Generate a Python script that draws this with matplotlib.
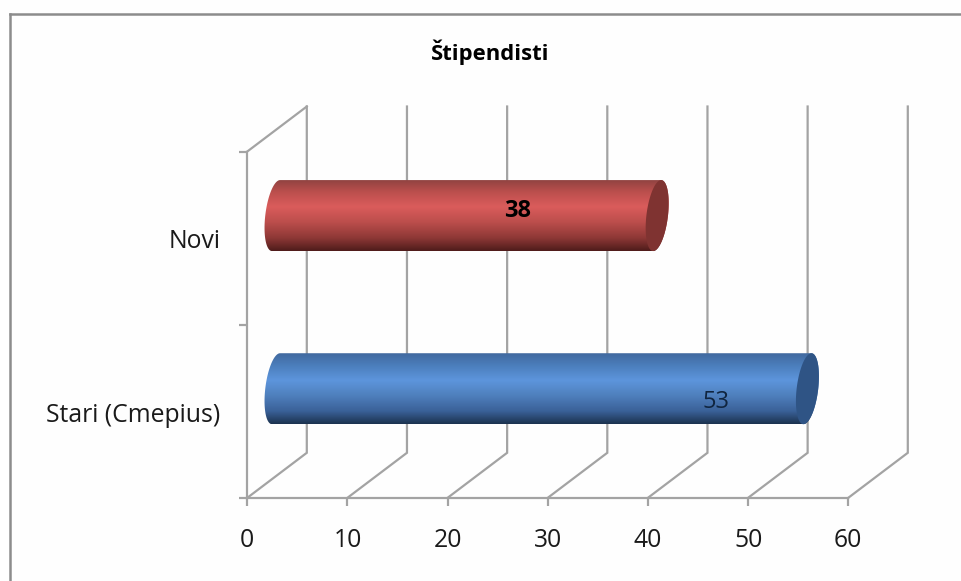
import numpy as np
import matplotlib
matplotlib.use('Agg')
import matplotlib.pyplot as plt
from matplotlib.colors import LinearSegmentedColormap
from matplotlib.patches import PathPatch
from matplotlib.path import Path

# data
categories = ['Stari (Cmepius)', 'Novi']
values = [53, 38]
value_ticks = [0, 10, 20, 30, 40, 50, 60]
title = 'Štipendisti'

# px helpers, picture is 962x581
W, H = 962, 581
x0_px, x60_px = 247.3, 848.3
y0_px, y2_px = 497.8, 151.5

plt.rcParams['font.family'] = ['Open Sans', 'DejaVu Sans']

fig = plt.figure(figsize=(W / 100, H / 100), dpi=100, facecolor='#fefefe')
ax = fig.add_axes([x0_px / W, 1 - y0_px / H, (x60_px - x0_px) / W, (y0_px - y2_px) / H])
ax.patch.set_visible(False)
ax.set_xlim(0, 60)
ax.set_ylim(0, 2)

px_x = 60 / (x60_px - x0_px)        # value units per pixel
px_y = 2 / (y0_px - y2_px)          # category units per pixel
depth_x = 59.5 * px_x               # 3d floor offset
depth_y = 45 * px_y

grid_c = '#a3a3a3'
lw = 1.6

# outer frame, picture is cropped on right and bottom
for xs, ys in [([10.3, 10.3], [H, 13.5]), ([10.3, W], [13.5, 13.5])]:
    fig.add_artist(plt.Line2D(np.array(xs) / W, 1 - np.array(ys) / H, color='#8c8c8c', lw=1.8))

# walls and floor
for v in value_ticks:
    ax.plot([v, v + depth_x, v + depth_x], [0, depth_y, 2 + depth_y], color=grid_c, lw=lw,
            clip_on=False, zorder=1, solid_joinstyle='miter')
ax.plot([0, depth_x], [2, 2 + depth_y], color=grid_c, lw=lw, clip_on=False, zorder=1)

# axis
for s in ['top', 'right']:
    ax.spines[s].set_visible(False)
for s in ['left', 'bottom']:
    ax.spines[s].set_color(grid_c)
    ax.spines[s].set_linewidth(lw)
    ax.spines[s].set_zorder(1)
ax.set_xticks(value_ticks)
ax.set_yticks([0, 1, 2])
ax.set_yticklabels([])
ax.tick_params(axis='both', color=grid_c, width=lw, length=5.8, labelcolor='#1a1a1a')
ax.tick_params(axis='x', labelsize=17.8, pad=16)


def cylinder(v, cat, stops, cap_color):
    cy = cat + 0.5 + depth_y / 2
    half_h = 35.5 * px_y
    a = 10.8 * px_x
    s = 4 * px_x
    c_left = depth_x / 2 - 1 * px_x
    c_right = v + depth_x / 2 - 0.5 * px_x

    # left half of the left ellipse, then right half of the right one
    t = np.linspace(np.pi / 2, 3 * np.pi / 2, 60)
    xl = c_left + a * np.cos(t) + s * np.sin(t)
    yl = cy + half_h * np.sin(t)
    t2 = np.linspace(-np.pi / 2, np.pi / 2, 60)
    xr = c_right + a * np.cos(t2) + s * np.sin(t2)
    yr = cy + half_h * np.sin(t2)
    verts = np.r_[np.c_[xl, yl], np.c_[xr, yr], [[xl[0], yl[0]]]]
    body = PathPatch(Path(verts), transform=ax.transData, facecolor='none', edgecolor='none')
    ax.add_patch(body)

    cmap = LinearSegmentedColormap.from_list('grad', stops)
    grad = np.linspace(0, 1, 128).reshape(-1, 1)
    im = ax.imshow(grad, cmap=cmap, aspect='auto', origin='upper', zorder=3, interpolation='bilinear',
                   extent=[c_left - 2, c_right + 2, cy - half_h, cy + half_h])
    im.set_clip_path(body)

    # end cap
    t3 = np.linspace(0, 2 * np.pi, 120)
    ax.fill(c_right + a * np.cos(t3) + s * np.sin(t3), cy + half_h * np.sin(t3),
            color=cap_color, lw=0, zorder=4, clip_on=False)


blue = [(0, '#41699f'), (0.18, '#4c7fbd'), (0.38, '#5d95dc'), (0.6, '#4f80bd'), (0.82, '#3a6198'), (1, '#1c3350')]
red = [(0, '#8e4240'), (0.18, '#bc4f4d'), (0.38, '#da5c5b'), (0.6, '#bc4e4c'), (0.82, '#8e3836'), (1, '#4f1c1b')]
cylinder(values[0], 0, blue, '#2f5485')
cylinder(values[1], 1, red, '#7f3331')
ax.set_xlim(0, 60)
ax.set_ylim(0, 2)

# category labels
for i, c in enumerate(categories):
    ax.text(-2.7, i + 0.5 - 0.022, c, ha='right', va='center', fontsize=17.8, color='#1a1a1a', clip_on=False)

# value labels
ax.text(27, 1.654, str(values[1]), ha='center', va='center', fontsize=17, fontweight='bold', color='black', zorder=6)
ax.text(46.8, 0.554, str(values[0]), ha='center', va='center', fontsize=17, color='#10253f', zorder=6)

fig.text(490 / W, 1 - 52 / H, title, ha='center', va='center', fontsize=15.8, fontweight='bold', color='black')

fig.savefig('out.png', dpi=100, facecolor=fig.get_facecolor())
